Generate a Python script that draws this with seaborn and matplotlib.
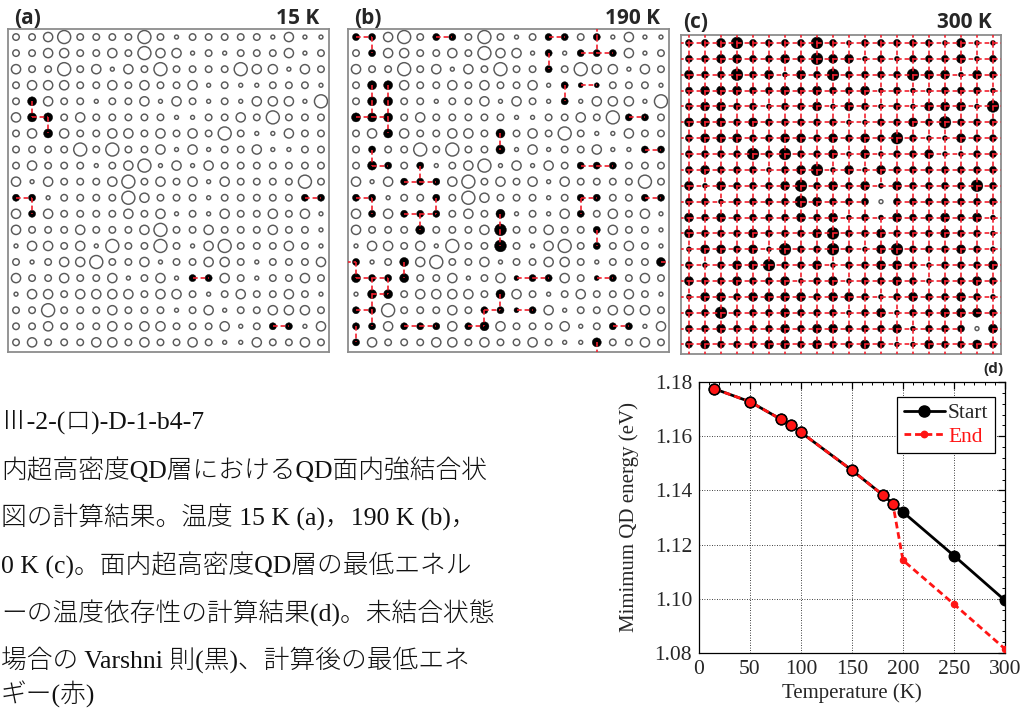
import numpy as np
import pandas as pd
import matplotlib
matplotlib.use("Agg")
import matplotlib.pyplot as plt
from matplotlib.collections import LineCollection
from matplotlib.lines import Line2D
from matplotlib.ticker import MultipleLocator, FormatStrFormatter
import seaborn as sns

# ---------------------------------------------------------------------------
# Lattice of quantum dots (20 x 20); size class per dot, one string per row
# (1 = smallest ... 4 = largest)
QD_SIZE_ROWS = [
    "22342222421222221311",
    "22332232433121222312",
    "32242313242222433132",
    "23332232322312112221",
    "23322122313212133314",
    "33323222221122324222",
    "23332233232324211322",
    "22224242231312231122",
    "23222123413132222222",
    "31322234232313222242",
    "22122224322212222222",
    "32322223231213223231",
    "32223222342232223221",
    "13323142242134222321",
    "21233422312233212223",
    "32232231231223212232",
    "13323333233212322321",
    "22422232221231223332",
    "22322232332223122213",
    "23222332322321132232",
]

# Strongly coupled neighbour pairs, (row, col) -> (row, col); lattice is periodic
LINKS_15K = [
    ((5, 2), (6, 2)), ((6, 2), (6, 3)), ((6, 3), (7, 3)),
    ((11, 1), (11, 2)), ((11, 2), (12, 2)), ((11, 19), (11, 20)),
    ((16, 12), (16, 13)), ((19, 17), (19, 18)),
]

LINKS_190K = [
    ((1, 1), (1, 2)), ((1, 6), (1, 7)), ((1, 13), (1, 14)), ((1, 16), (20, 16)),
    ((1, 2), (2, 2)), ((1, 16), (2, 16)), ((2, 15), (2, 16)), ((2, 16), (2, 17)),
    ((2, 13), (3, 13)),
    ((4, 2), (5, 2)), ((4, 3), (5, 3)), ((4, 14), (5, 14)), ((4, 15), (4, 16)),
    ((5, 2), (6, 2)), ((5, 3), (6, 3)), ((6, 1), (6, 2)), ((6, 2), (6, 3)),
    ((6, 3), (7, 3)), ((6, 18), (6, 19)),
    ((7, 10), (8, 10)), ((8, 2), (9, 2)), ((8, 19), (8, 20)), ((9, 2), (9, 3)),
    ((9, 15), (9, 16)), ((9, 16), (9, 17)), ((9, 5), (10, 5)),
    ((10, 4), (10, 5)), ((10, 5), (10, 6)),
    ((11, 1), (11, 2)), ((11, 2), (12, 2)), ((11, 6), (12, 6)), ((11, 15), (11, 16)),
    ((11, 15), (12, 15)), ((11, 19), (11, 20)),
    ((12, 4), (12, 5)), ((12, 5), (12, 6)), ((12, 5), (13, 5)), ((12, 10), (13, 10)),
    ((13, 10), (14, 10)), ((13, 16), (14, 16)),
    ((15, 1), (15, 20)), ((15, 1), (16, 1)), ((15, 4), (16, 4)),
    ((16, 1), (16, 2)), ((16, 2), (16, 3)), ((16, 2), (17, 2)), ((16, 3), (17, 3)),
    ((16, 11), (16, 12)), ((16, 12), (16, 13)), ((16, 16), (16, 17)),
    ((17, 2), (17, 3)), ((17, 10), (18, 10)), ((17, 2), (18, 2)),
    ((18, 1), (18, 2)), ((18, 9), (18, 10)), ((18, 11), (18, 12)), ((18, 9), (19, 9)),
    ((18, 2), (19, 2)),
    ((19, 1), (20, 1)), ((19, 4), (19, 5)), ((19, 5), (19, 6)), ((19, 8), (19, 9)),
    ((19, 17), (19, 18)),
]

# At 300 K every dot couples to all four neighbours except these
UNCOUPLED_300K = [(11, 13), (19, 19)]

PANEL_TAGS = ["(a)", "(b)", "(c)"]
PANEL_TEMPS = ["15 K", "190 K", "300 K"]

# Minimum QD energy versus temperature
TEMPERATURE_K = [15, 50, 80, 90, 100, 150, 180, 190, 200, 250, 300]
E_START = [1.1775, 1.1727, 1.1663, 1.1641, 1.1614, 1.1474, 1.1384, 1.1351, 1.1320, 1.1159, 1.0994]
E_END = [1.1775, 1.1727, 1.1663, 1.1641, 1.1614, 1.1474, 1.1384, 1.1351, 1.1142, 1.0980, 1.0815]

CAPTION_LINES = [
    "Ⅲ-2-(ロ)-D-1-b4-7",
    "内超高密度QD層におけるQD面内強結合状",
    "図の計算結果。温度 15 K (a)，190 K (b)，",
    "0 K (c)。面内超高密度QD層の最低エネル",
    "ーの温度依存性の計算結果(d)。未結合状態",
    "場合の Varshni 則(黒)、計算後の最低エネ",
    "ギー(赤)",
]

# ---------------------------------------------------------------------------
sns.set_style("white")
plt.rcParams["font.family"] = ["DejaVu Sans"]

W, H = 1023, 708
fig = plt.figure(figsize=(W / 100, H / 100), dpi=100)
fig.patch.set_facecolor("white")


def fig_box(x0, y0, x1, y1):
    return [x0 / W, 1 - y1 / H, (x1 - x0) / W, (y1 - y0) / H]


def fig_xy(x, y):
    return x / W, 1 - y / H


N = len(QD_SIZE_ROWS)
lattice = pd.DataFrame(
    [(r + 1, c + 1, int(ch)) for r, row in enumerate(QD_SIZE_ROWS) for c, ch in enumerate(row)],
    columns=["row", "col", "level"],
)

RING_AREA = {1: 8, 2: 22, 3: 44, 4: 88}
DOT_AREA = {1: 13, 2: 26, 3: 42, 4: 72}
LINK_RED = "#f2202e"
RING_GREY = "#5a5a5a"


def link_segments(links):
    segs = []
    ext = 0.6
    for (r1, c1), (r2, c2) in links:
        if abs(r1 - r2) + abs(c1 - c2) == 1:
            segs.append([(c1, r1), (c2, r2)])
        elif r1 == r2:  # wraps across the left/right boundary
            lo, hi = min(c1, c2), max(c1, c2)
            segs.append([(hi, r1), (N + ext, r1)])
            segs.append([(1 - ext, r1), (lo, r1)])
        else:  # wraps across the top/bottom boundary
            lo, hi = min(r1, r2), max(r1, r2)
            segs.append([(c1, hi), (c1, N + ext)])
            segs.append([(c1, 1 - ext), (c1, lo)])
    return segs


def full_lattice_links(uncoupled):
    bad = set(uncoupled)
    out = []
    for r in range(1, N + 1):
        for c in range(1, N + 1):
            if (r, c) in bad:
                continue
            right = (r, c % N + 1)
            down = (r % N + 1, c)
            if right not in bad:
                out.append(((r, c), right))
            if down not in bad:
                out.append(((r, c), down))
    return out


links_300 = full_lattice_links(UNCOUPLED_300K)
panel_links = [LINKS_15K, LINKS_190K, links_300]

panel_boxes = [(8, 29, 329, 352), (348, 29, 669, 352), (681, 35, 1001, 354)]

for k in range(3):
    ax = fig.add_axes(fig_box(*panel_boxes[k]))
    links = panel_links[k]
    coupled = {p for pair in links for p in pair}
    is_on = lattice.apply(lambda d: (d.row, d.col) in coupled, axis=1)
    rings = lattice[~is_on]
    dots = lattice[is_on]

    if len(rings):
        sns.scatterplot(data=rings, x="col", y="row", size="level", sizes=RING_AREA,
                        facecolor="none", edgecolor=RING_GREY, linewidth=1.05,
                        legend=False, ax=ax, zorder=2)
        ax.collections[-1].set_facecolor("none")
        ax.collections[-1].set_edgecolor(RING_GREY)
    if len(dots):
        sns.scatterplot(data=dots, x="col", y="row", size="level", sizes=DOT_AREA,
                        color="black", edgecolor="black", linewidth=0.3,
                        legend=False, ax=ax, zorder=3)

    lc = LineCollection(link_segments(links), colors=LINK_RED, linewidths=1.3,
                        linestyles=[(0, (2.6, 1.6))], alpha=0.92, zorder=4)
    ax.add_collection(lc)

    ax.set_xlim(0.5, N + 0.5)
    ax.set_ylim(N + 0.6, 0.5)
    ax.set_xticks([])
    ax.set_yticks([])
    ax.set_xlabel("")
    ax.set_ylabel("")
    for sp in ax.spines.values():
        sp.set_visible(True)
        sp.set_color("#8c8c8c")
        sp.set_linewidth(1.3)

# Panel tags and temperatures
tag_pos = [(14, 19), (354, 19), (683, 23)]
temp_pos = [(319, 18), (660, 18), (992, 22)]
for k in range(3):
    fig.text(*fig_xy(*tag_pos[k]), PANEL_TAGS[k], ha="left", va="center",
             fontsize=15, fontweight="bold", family=["Open Sans", "DejaVu Sans"])
    fig.text(*fig_xy(*temp_pos[k]), PANEL_TEMPS[k], ha="right", va="center",
             fontsize=15, fontweight="bold", family=["Open Sans", "DejaVu Sans"])

# ---------------------------------------------------------------------------
# (d) minimum QD energy versus temperature
serif = ["Liberation Serif", "DejaVu Serif"]
axd = fig.add_axes(fig_box(699, 382, 1005, 653))
sns.lineplot(x=TEMPERATURE_K, y=E_START, ax=axd, color="black", linewidth=2.0,
             marker="o", markersize=7.6, markeredgecolor="black", markeredgewidth=1.0,
             zorder=3)
sns.lineplot(x=TEMPERATURE_K, y=E_END, ax=axd, color="#ff1414", linewidth=2.0,
             linestyle=(0, (2.4, 1.4)), marker="o", markersize=4.6,
             markeredgecolor="#ff1414", markeredgewidth=0.8, zorder=4)
same = pd.DataFrame({"T": TEMPERATURE_K, "a": E_START, "b": E_END})
same = same[np.isclose(same.a, same.b)]
sns.scatterplot(data=same, x="T", y="b", ax=axd, color="#ff1414", edgecolor="black",
                linewidth=1.1, s=58, legend=False, zorder=5)

axd.set_xlim(0, 300)
axd.set_ylim(1.08, 1.18)
axd.xaxis.set_major_locator(MultipleLocator(50))
axd.xaxis.set_minor_locator(MultipleLocator(10))
axd.yaxis.set_major_locator(MultipleLocator(0.02))
axd.yaxis.set_minor_locator(MultipleLocator(0.004))
axd.yaxis.set_major_formatter(FormatStrFormatter("%.2f"))
axd.grid(True, which="major", linestyle=(0, (1, 2)), color="black", linewidth=0.6)
axd.tick_params(which="both", direction="in", top=True, right=True, color="black")
axd.tick_params(which="major", length=5, width=0.9, labelsize=15.5, pad=5)
axd.tick_params(which="minor", length=2.5, width=0.7)
for lab in axd.get_xticklabels() + axd.get_yticklabels():
    lab.set_family(serif)
for sp in axd.spines.values():
    sp.set_visible(True)
    sp.set_color("black")
    sp.set_linewidth(0.9)
axd.set_xlabel("Temperature (K)", fontsize=15, family=serif, labelpad=3)
axd.set_ylabel("Mimimum QD energy (eV)", fontsize=15, family=serif, labelpad=11)

handles = [
    Line2D([], [], color="black", lw=2.0, marker="o", markersize=8, markeredgecolor="black"),
    Line2D([], [], color="#ff1414", lw=2.0, linestyle=(0, (2.4, 1.4)), marker="o",
           markersize=4.6, markeredgecolor="#ff1414"),
]
leg = axd.legend(handles, ["Start", "End"], loc="upper right", bbox_to_anchor=(0.967, 0.945),
                 prop={"family": serif, "size": 15.5}, frameon=True, fancybox=False,
                 framealpha=1, edgecolor="black", handlelength=1.9, handletextpad=0.15,
                 borderpad=0.3, labelspacing=0.15, borderaxespad=0)
leg.get_frame().set_linewidth(0.9)
leg.get_texts()[1].set_color("#ff1414")

fig.text(*fig_xy(1003, 369), "(d)", ha="right", va="center", fontsize=11,
         fontweight="bold", family=["Open Sans", "DejaVu Sans"])

# ---------------------------------------------------------------------------
# Caption block: serif Latin, CJK glyphs from Noto
cap_y = [422, 470, 517, 565, 613, 660, 694]
for s, y in zip(CAPTION_LINES, cap_y):
    fig.text(*fig_xy(1, y), s, ha="left", va="center", fontsize=18.5, color="#111111",
             fontweight="light",
             family=["Liberation Serif", "Noto Sans CJK JP", "DejaVu Sans"])

fig.savefig("out.png", dpi=100, facecolor="white")
